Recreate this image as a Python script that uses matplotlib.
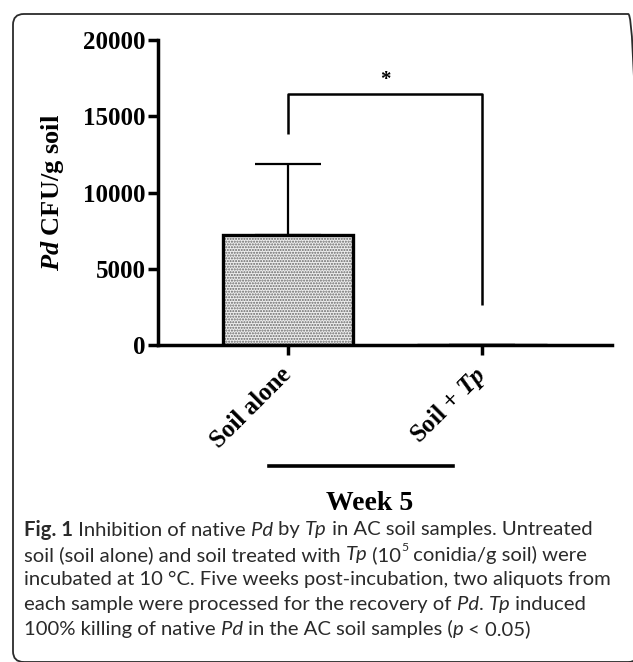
import numpy as np
import matplotlib.pyplot as plt
from matplotlib.patches import FancyBboxPatch
from matplotlib.lines import Line2D

plt.rcParams['mathtext.fontset'] = 'custom'
plt.rcParams['mathtext.it'] = 'Liberation Serif:italic:bold'
plt.rcParams['mathtext.rm'] = 'Liberation Serif:bold'
plt.rcParams['mathtext.bf'] = 'Liberation Serif:bold'

# ---------------- данные ----------------
groups = ['Soil alone', r'Soil + $\mathit{Tp}$']
means = [7200, 0]
sem_up = [4660, 0]
y_ticks = [0, 5000, 10000, 15000, 20000]
bracket_top = 16450
bracket_left_bottom = 13820
bracket_right_bottom = 2650
star_y = 17350
week_label = 'Week 5'

caption_lines = [
    [('Fig. 1', 'b'), (' Inhibition of native ', 'n'), ('Pd', 'i'), (' by ', 'n'), ('Tp', 'i'),
     (' in AC soil samples. Untreated', 'n')],
    [('soil (soil alone) and soil treated with ', 'n'), ('Tp', 'i'), (' (10', 'n'), ('5', 's'),
     (' conidia/g soil) were', 'n')],
    [('incubated at 10 \u00b0C. Five weeks post-incubation, two aliquots from', 'n')],
    [('each sample were processed for the recovery of ', 'n'), ('Pd', 'i'), ('. ', 'n'), ('Tp', 'i'),
     (' induced', 'n')],
    [('100% killing of native ', 'n'), ('Pd', 'i'), (' in the AC soil samples (', 'n'), ('p', 'i'),
     (' < 0.05)', 'n')],
]

W, H = 633, 662
fig = plt.figure(figsize=(W / 100, H / 100), dpi=100)

# рамка с закруглёнными углами (уходит за правый и нижний край)
box = FancyBboxPatch((13 / W, 1 - 662 / H), 626 / W, 648 / H,
                     boxstyle='round,pad=0,rounding_size=0.017', mutation_aspect=W / H,
                     transform=fig.transFigure, fill=False, edgecolor='#2b2b2b', linewidth=1.3)
fig.patches.append(box)

ax = fig.add_axes([158 / W, 1 - 345 / H, (612 - 158) / W, (345 - 40) / H])
x = np.arange(len(groups))

# штриховка (точки) + чёрный контур
ax.bar(x, means, width=0.67, color='#eeeeee', hatch='......', edgecolor='#666666', linewidth=0, zorder=2)
ax.bar(x, means, width=0.67, fill=False, edgecolor='black', linewidth=2.4, zorder=3)
ax.errorbar(x, means, yerr=[np.zeros(len(means)), sem_up], fmt='none', ecolor='black',
            elinewidth=1.6, capsize=24, capthick=1.6, zorder=1)

# скобка значимости
ax.plot([x[0], x[0], x[1], x[1]], [bracket_left_bottom, bracket_top, bracket_top, bracket_right_bottom],
        color='black', linewidth=1.8, solid_capstyle='butt', clip_on=False)
ax.text((x[0] + x[1]) / 2, star_y, '*', ha='center', va='center', fontsize=15,
        family='Liberation Serif', fontweight='bold')

ax.set_xlim(-0.67, 1.67)
ax.set_ylim(0, 20000)
ax.set_yticks(y_ticks)
ax.set_yticklabels([str(v) for v in y_ticks])
ax.set_xticks(x)
ax.set_xticklabels(groups, rotation=45, ha='right', va='center', rotation_mode='anchor')
for lab in ax.get_xticklabels() + ax.get_yticklabels():
    lab.set_family('Liberation Serif')
    lab.set_fontweight('bold')
    lab.set_fontsize(18)

ax.spines['top'].set_visible(False)
ax.spines['right'].set_visible(False)
ax.spines['left'].set_linewidth(2.5)
ax.spines['bottom'].set_linewidth(2.5)
ax.tick_params(width=2.5, length=7, pad=2)
ax.tick_params(axis='x', pad=12)
ax.set_ylabel(r'$\mathit{Pd}$ CFU/g soil', family='Liberation Serif', fontweight='bold', fontsize=19,
              labelpad=12)

# линия и подпись "Week 5"
fig.add_artist(Line2D([269 / W, 453 / W], [1 - 466 / H, 1 - 466 / H], color='black', linewidth=2.6))
fig.text(370 / W, 1 - 503 / H, week_label, ha='center', va='center', family='Liberation Serif',
         fontweight='bold', fontsize=20)

# подпись к рисунку
fig.canvas.draw()
renderer = fig.canvas.get_renderer()
cap_font = 'Lato'
cap_size = 14.6
cap_color = '#2a2a2a'
y0 = 530
for i, line in enumerate(caption_lines):
    xp = 24
    yp = 1 - (y0 + i * 24.8) / H
    for s, st in line:
        kw = dict(family=cap_font, fontsize=cap_size, color=cap_color, va='center', ha='left')
        yy = yp
        if st == 'b':
            kw['fontweight'] = 'bold'
        elif st == 'i':
            kw['style'] = 'italic'
        elif st == 's':
            kw['fontsize'] = cap_size * 0.6
            yy = yp + 7 / H
        t = fig.text(xp / W, yy, s, **kw)
        bb = t.get_window_extent(renderer)
        xp += bb.width

fig.savefig('out.png', dpi=100)
